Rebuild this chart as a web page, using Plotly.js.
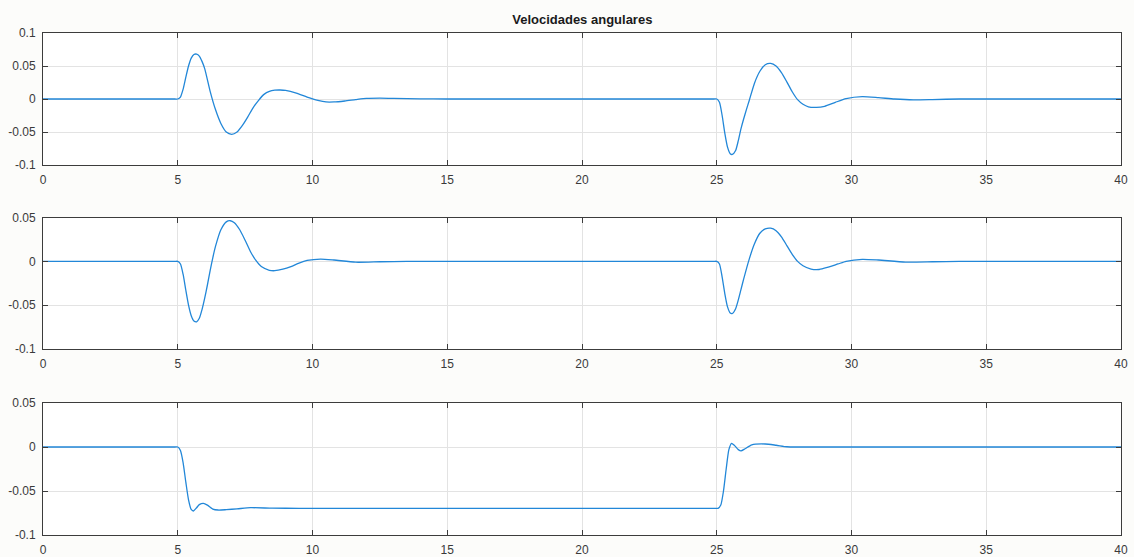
<!DOCTYPE html>
<html>
<head>
<meta charset="utf-8">
<script src="https://cdn.plot.ly/plotly-3.0.1.min.js"></script>
<style>html,body{margin:0;padding:0;background:#fcfcfa;}</style>
</head>
<body>
<div id="chart" style="width:1134px;height:557px;"></div>
<script>
// Panel 1 (angular velocity 1)
const t1 = [0,1,2,3,4,4.9,5.0,5.1,5.2,5.3,5.4,5.5,5.6,5.7,5.8,5.9,6.0,6.2,6.4,6.6,6.8,7.0,7.2,7.4,7.6,7.8,8.0,8.2,8.4,8.6,8.8,9.0,9.4,9.8,10.2,10.5,10.8,11.2,11.6,12.0,12.5,13.0,14.0,15.0,16,17,18,19,20,21,22,23,24,24.9,
  25.0,25.1,25.2,25.3,25.4,25.5,25.58,25.7,25.8,25.9,26.0,26.1,26.2,26.4,26.6,26.8,27.0,27.2,27.4,27.6,27.8,28.0,28.2,28.4,28.7,29.0,29.4,29.8,30.4,31.0,31.6,32.3,33.0,34.0,35,36,37,38,39,40.0];
const w1 = [0,0,0,0,0,0,0,0.003,0.015,0.033,0.050,0.062,0.0675,0.068,0.065,0.057,0.046,0.012,-0.016,-0.037,-0.050,-0.0535,-0.050,-0.040,-0.027,-0.013,-0.002,0.007,0.0115,0.0133,0.0136,0.013,0.009,0.003,-0.002,-0.0045,-0.0045,-0.003,-0.001,0.0008,0.0012,0.0008,0.0002,0,0,0,0,0,0,0,0,0,0,0,
  0,-0.005,-0.025,-0.052,-0.073,-0.083,-0.084,-0.078,-0.063,-0.045,-0.030,-0.016,-0.003,0.024,0.042,0.052,0.054,0.050,0.040,0.026,0.011,-0.001,-0.008,-0.0118,-0.0126,-0.011,-0.005,0.0005,0.0035,0.002,0,-0.0012,-0.0008,0,0,0,0,0,0,0];

// Panel 2 (angular velocity 2)
const t2 = [0,1,2,3,4,4.9,5.0,5.1,5.2,5.3,5.4,5.5,5.6,5.7,5.8,5.9,6.0,6.1,6.2,6.3,6.4,6.6,6.8,6.95,7.1,7.3,7.5,7.7,7.9,8.1,8.4,8.6,8.9,9.2,9.5,9.8,10.3,10.8,11.6,12.5,13.5,14.5,15.5,16.5,17.5,18.5,19.5,20.5,21.5,22.5,23.5,24.5,24.9,
  25.0,25.1,25.2,25.3,25.4,25.5,25.58,25.7,25.8,25.9,26.0,26.2,26.4,26.6,26.8,27.0,27.2,27.4,27.6,27.8,28.0,28.2,28.5,28.8,29.1,29.5,29.8,30.4,31.0,32.0,33.0,34.0,35,36,37,38,39,40.0];
const w2 = [0,0,0,0,0,0,0,-0.003,-0.015,-0.033,-0.050,-0.062,-0.068,-0.069,-0.065,-0.055,-0.042,-0.027,-0.011,0.004,0.017,0.036,0.045,0.0463,0.044,0.036,0.024,0.011,0.001,-0.006,-0.0102,-0.0107,-0.009,-0.006,-0.002,0.001,0.0026,0.0015,-0.001,-0.0005,0,0,0,0,0,0,0,0,0,0,0,0,0,
  0,-0.003,-0.018,-0.037,-0.052,-0.059,-0.0595,-0.054,-0.044,-0.032,-0.020,0.002,0.020,0.032,0.037,0.0378,0.035,0.028,0.018,0.008,0,-0.005,-0.0088,-0.0093,-0.007,-0.003,0,0.0023,0.0015,-0.0008,-0.0005,0,0,0,0,0,0,0];

// Panel 3 (angular velocity 3)
const t3 = [0,1,2,3,4,4.9,5.0,5.1,5.2,5.3,5.4,5.5,5.58,5.7,5.8,5.95,6.1,6.3,6.5,6.8,7.2,7.7,8.5,9.5,10.5,11.5,12.5,13.5,14.5,15.5,16.5,17.5,18.5,19.5,20.5,21.5,22.5,23.5,24.5,24.95,
  25.05,25.15,25.25,25.35,25.45,25.55,25.65,25.8,25.9,26.05,26.3,26.8,27.2,27.6,28.0,29,30,31,32,33,34,35,36,37,38,39,40.0];
const w3 = [0,0,0,0,0,0,0,-0.004,-0.018,-0.040,-0.060,-0.071,-0.0727,-0.069,-0.0655,-0.064,-0.066,-0.0705,-0.0716,-0.0712,-0.0703,-0.069,-0.0695,-0.0697,-0.0697,-0.0697,-0.0697,-0.0697,-0.0697,-0.0697,-0.0697,-0.0697,-0.0697,-0.0697,-0.0697,-0.0697,-0.0697,-0.0697,-0.0697,-0.0697,
  -0.0697,-0.066,-0.050,-0.025,-0.003,0.0042,0.002,-0.003,-0.0045,-0.002,0.0025,0.0034,0.002,0.0003,0,0,0,0,0,0,0,0,0,0,0,0,0];

const titleText = 'Velocidades angulares';
const xTicks = [0,5,10,15,20,25,30,35,40];
const yTicks1 = [-0.1,-0.05,0,0.05,0.1];
const yTicksLbl1 = ['-0.1','-0.05','0','0.05','0.1'];
const yTicks23 = [-0.1,-0.05,0,0.05];
const yTicksLbl23 = ['-0.1','-0.05','0','0.05'];

const lineColor = '#2287d8';
const mk = (x, y, xa, ya) => ({x: x, y: y, xaxis: xa, yaxis: ya, type: 'scatter', mode: 'lines',
  line: {color: lineColor, width: 1.3, shape: 'spline', smoothing: 0.6}, hoverinfo: 'skip'});

const data = [mk(t1, w1, 'x', 'y'), mk(t2, w2, 'x2', 'y2'), mk(t3, w3, 'x3', 'y3')];

const W = 1134, H = 557;
const L = 43, R = 1121;
const fnt = {family: 'Liberation Sans, Arial, sans-serif', size: 12, color: '#3a3a3a'};
const xax = (dom) => ({domain: [L / W, R / W], range: [0, 40], tickvals: xTicks, ticktext: xTicks.map(String),
  showgrid: true, gridcolor: '#e3e3e3', gridwidth: 1, zeroline: false, showline: true, linecolor: '#3c3c3c', linewidth: 1,
  mirror: 'ticks', ticks: 'inside', ticklen: 5, tickcolor: '#3c3c3c', tickfont: fnt, ticklabelstandoff: 4, fixedrange: true, anchor: dom});
const yax = (top, bot, rng, tv, tt, anc) => ({domain: [1 - bot / H, 1 - top / H], range: rng, tickvals: tv, ticktext: tt,
  showgrid: true, gridcolor: '#e3e3e3', gridwidth: 1, zeroline: false, showline: true, linecolor: '#3c3c3c', linewidth: 1,
  mirror: 'ticks', ticks: 'inside', ticklen: 5, tickcolor: '#3c3c3c', tickfont: fnt, ticklabelstandoff: 4, fixedrange: true, anchor: anc});

const layout = {
  width: W, height: H,
  margin: {l: 0, r: 0, t: 0, b: 0},
  paper_bgcolor: '#fcfcfa', plot_bgcolor: '#ffffff',
  showlegend: false,
  title: {text: '<b>' + titleText + '</b>', font: {family: 'Liberation Sans, Arial, sans-serif', size: 13, color: '#1a1a1a'},
    x: 0.5135, xanchor: 'center', y: 1 - 19 / H, yanchor: 'middle'},
  xaxis: xax('y'), xaxis2: xax('y2'), xaxis3: xax('y3'),
  yaxis: yax(33, 165, [-0.1, 0.1], yTicks1, yTicksLbl1, 'x'),
  yaxis2: yax(217.5, 349, [-0.1, 0.05], yTicks23, yTicksLbl23, 'x2'),
  yaxis3: yax(403, 535, [-0.1, 0.05], yTicks23, yTicksLbl23, 'x3')
};

Plotly.newPlot('chart', data, layout, {displayModeBar: false, staticPlot: true});
</script>
</body>
</html>
